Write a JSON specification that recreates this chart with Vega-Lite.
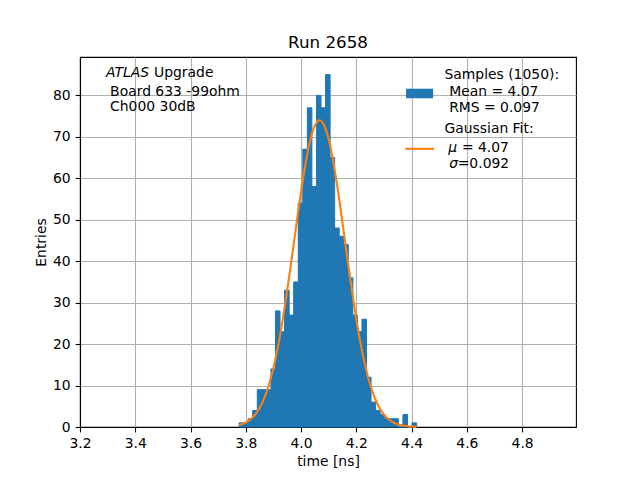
{
  "$schema": "https://vega.github.io/schema/vega-lite/v6.json",
  "width": 496,
  "height": 370,
  "autosize": {"type": "none"},
  "padding": {"left": 80, "top": 57, "right": 64, "bottom": 53},
  "title": {"text": "Run 2658", "offset": -8, "baseline": "alphabetic"},
  "datasets": {
    "hist": [
      {"x": 3.7757, "x2": 3.7922, "y": 1},
      {"x": 3.7922, "x2": 3.8086, "y": 1},
      {"x": 3.8086, "x2": 3.8251, "y": 2},
      {"x": 3.8251, "x2": 3.8416, "y": 4},
      {"x": 3.8416, "x2": 3.8580, "y": 9},
      {"x": 3.8580, "x2": 3.8745, "y": 9},
      {"x": 3.8745, "x2": 3.8910, "y": 9},
      {"x": 3.8910, "x2": 3.9075, "y": 14},
      {"x": 3.9075, "x2": 3.9239, "y": 28},
      {"x": 3.9239, "x2": 3.9404, "y": 23},
      {"x": 3.9404, "x2": 3.9569, "y": 33},
      {"x": 3.9569, "x2": 3.9733, "y": 27},
      {"x": 3.9733, "x2": 3.9898, "y": 35},
      {"x": 3.9898, "x2": 4.0063, "y": 54},
      {"x": 4.0063, "x2": 4.0228, "y": 67},
      {"x": 4.0228, "x2": 4.0392, "y": 77},
      {"x": 4.0392, "x2": 4.0557, "y": 58},
      {"x": 4.0557, "x2": 4.0722, "y": 80},
      {"x": 4.0722, "x2": 4.0886, "y": 77},
      {"x": 4.0886, "x2": 4.1051, "y": 85},
      {"x": 4.1051, "x2": 4.1216, "y": 65},
      {"x": 4.1216, "x2": 4.1380, "y": 48},
      {"x": 4.1380, "x2": 4.1545, "y": 46},
      {"x": 4.1545, "x2": 4.1710, "y": 44},
      {"x": 4.1710, "x2": 4.1875, "y": 36},
      {"x": 4.1875, "x2": 4.2039, "y": 27},
      {"x": 4.2039, "x2": 4.2204, "y": 23},
      {"x": 4.2204, "x2": 4.2369, "y": 26},
      {"x": 4.2369, "x2": 4.2533, "y": 12},
      {"x": 4.2533, "x2": 4.2698, "y": 6},
      {"x": 4.2698, "x2": 4.2863, "y": 4},
      {"x": 4.2863, "x2": 4.3027, "y": 3},
      {"x": 4.3027, "x2": 4.3192, "y": 2},
      {"x": 4.3192, "x2": 4.3357, "y": 2},
      {"x": 4.3357, "x2": 4.3522, "y": 2},
      {"x": 4.3522, "x2": 4.3686, "y": 0},
      {"x": 4.3686, "x2": 4.3851, "y": 3},
      {"x": 4.3851, "x2": 4.4016, "y": 0},
      {"x": 4.4016, "x2": 4.4181, "y": 1}
    ],
    "fit": [
      {"x": 3.776, "y": 0.497},
      {"x": 3.787, "y": 0.721},
      {"x": 3.807, "y": 1.365},
      {"x": 3.827, "y": 2.463},
      {"x": 3.847, "y": 4.242},
      {"x": 3.867, "y": 6.968},
      {"x": 3.887, "y": 10.91},
      {"x": 3.907, "y": 16.31},
      {"x": 3.927, "y": 23.25},
      {"x": 3.947, "y": 31.61},
      {"x": 3.967, "y": 40.99},
      {"x": 3.987, "y": 50.71},
      {"x": 4.007, "y": 59.82},
      {"x": 4.027, "y": 67.33},
      {"x": 4.047, "y": 72.27},
      {"x": 4.067, "y": 74.0},
      {"x": 4.087, "y": 72.27},
      {"x": 4.107, "y": 67.33},
      {"x": 4.127, "y": 59.82},
      {"x": 4.147, "y": 50.71},
      {"x": 4.167, "y": 40.99},
      {"x": 4.187, "y": 31.61},
      {"x": 4.207, "y": 23.25},
      {"x": 4.227, "y": 16.31},
      {"x": 4.247, "y": 10.91},
      {"x": 4.267, "y": 6.968},
      {"x": 4.287, "y": 4.242},
      {"x": 4.307, "y": 2.463},
      {"x": 4.327, "y": 1.365},
      {"x": 4.347, "y": 0.721},
      {"x": 4.367, "y": 0.363},
      {"x": 4.387, "y": 0.175},
      {"x": 4.407, "y": 0.080},
      {"x": 4.418, "y": 0.051}
    ],
    "patch": [{"x": 4.380, "x2": 4.478, "y": 81.6, "y2": 79.3}],
    "swatch": [{"x": 4.377, "x2": 4.482, "y": 67.1}],
    "notes": [
      {"x": 3.468, "y": 85.3, "text": "Upgrade"},
      {"x": 3.309, "y": 80.9, "text": "Board 633 -99ohm"},
      {"x": 3.309, "y": 77.1, "text": "Ch000 30dB"},
      {"x": 4.519, "y": 84.8, "text": "Samples (1050):"},
      {"x": 4.536, "y": 80.8, "text": "Mean = 4.07"},
      {"x": 4.536, "y": 76.9, "text": "RMS = 0.097"},
      {"x": 4.519, "y": 71.8, "text": "Gaussian Fit:"},
      {"x": 4.582, "y": 67.4, "text": "= 4.07"},
      {"x": 4.567, "y": 63.4, "text": "=0.092"}
    ],
    "notes_italic": [
      {"x": 3.294, "y": 85.3, "text": "ATLAS"},
      {"x": 4.533, "y": 67.4, "text": "μ"},
      {"x": 4.536, "y": 63.4, "text": "σ"}
    ]
  },
  "encoding": {
    "x": {
      "field": "x",
      "type": "quantitative",
      "title": "time [ns]",
      "scale": {"domain": [3.2, 4.995], "nice": false, "zero": false},
      "axis": {
        "values": [3.2, 3.4, 3.6, 3.8, 4.0, 4.2, 4.4, 4.6, 4.8],
        "format": ".1f"
      }
    },
    "y": {
      "field": "y",
      "type": "quantitative",
      "title": "Entries",
      "scale": {"domain": [0, 89.25], "nice": false},
      "axis": {"values": [0, 10, 20, 30, 40, 50, 60, 70, 80], "format": "d"}
    }
  },
  "layer": [
    {
      "data": {"name": "hist"},
      "mark": {"type": "rect", "color": "#1f77b4", "stroke": "#1f77b4", "strokeWidth": 1, "strokeJoin": "miter"},
      "encoding": {"x2": {"field": "x2"}, "y2": {"datum": 0}}
    },
    {
      "data": {"name": "fit"},
      "mark": {"type": "line", "color": "#ff7f0e", "strokeWidth": 2.1, "interpolate": "monotone"}
    },
    {
      "data": {"name": "patch"},
      "mark": {"type": "rect", "color": "#1f77b4"},
      "encoding": {"x2": {"field": "x2"}, "y2": {"field": "y2"}}
    },
    {
      "data": {"name": "swatch"},
      "mark": {"type": "rule", "color": "#ff7f0e", "strokeWidth": 2.1},
      "encoding": {"x2": {"field": "x2"}}
    },
    {
      "data": {"name": "notes"},
      "mark": {"type": "text", "align": "left", "baseline": "middle", "fontSize": 13.9, "color": "black"},
      "encoding": {"text": {"field": "text"}}
    },
    {
      "data": {"name": "notes_italic"},
      "mark": {"type": "text", "align": "left", "baseline": "middle", "fontSize": 13.9, "fontStyle": "italic", "color": "black"},
      "encoding": {"text": {"field": "text"}}
    }
  ],
  "config": {
    "font": "DejaVu Sans",
    "view": {"stroke": "black", "strokeWidth": 1.1},
    "title": {"fontSize": 16.7, "fontWeight": "normal", "color": "black", "anchor": "middle"},
    "axis": {
      "zindex": 1,
      "grid": true,
      "gridColor": "#b0b0b0",
      "gridWidth": 1.1,
      "domainColor": "black",
      "domainWidth": 1.1,
      "tickColor": "black",
      "tickWidth": 1.1,
      "tickSize": 4.9,
      "labelPadding": 4.9,
      "labelFontSize": 13.9,
      "labelColor": "black",
      "labelOverlap": false,
      "labelFlush": false,
      "titleFontSize": 13.9,
      "titleFontWeight": "normal",
      "titleColor": "black",
      "titlePadding": 4
    }
  }
}
